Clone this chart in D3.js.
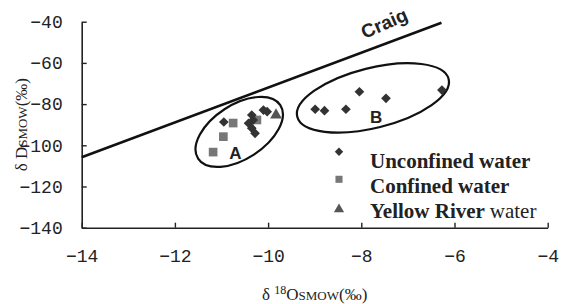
<!DOCTYPE html>
<html><head><meta charset="utf-8">
<script src="https://cdn.jsdelivr.net/npm/d3@7"></script>
<style>body{margin:0;background:#fff}svg{display:block}</style>
</head><body>
<svg id="c" width="561" height="304"></svg>
<script>
// ---- data ----
const xTicks = [-14, -12, -10, -8, -6, -4];
const yTicks = [-140, -120, -100, -80, -60, -40];
const unconfinedX = [-10.95, -10.35, -10.32, -10.42, -10.35, -10.28, -10.10, -10.02, -8.99, -8.79, -8.33, -8.04, -7.47, -6.27];
const unconfinedY = [-88.7, -85.3, -87.7, -89.3, -91.7, -94.2, -82.9, -83.7, -82.5, -83.2, -82.5, -74.0, -77.2, -73.2];
const confinedX = [-10.75, -10.96, -11.18, -10.24];
const confinedY = [-89.2, -95.8, -103.3, -87.7];
const riverX = [-9.83];
const riverY = [-85.3];
const craigX = [-14, -6.28];
const craigY = [-105.8, -40.5];
const legendLabels = ["Unconfined water", "Confined water", "Yellow River water"];

const svg = d3.select("#c");
const x = d3.scaleLinear().domain([-14, -4]).range([81.7, 547.7]);
const y = d3.scaleLinear().domain([-140, -40]).range([227.7, 21.7]);
const minus = v => String(v).replace("-", "\u2212");
const tickFont = "'Liberation Mono', monospace";

// axes
const xa = svg.append("g").attr("transform", `translate(0,${y(-140)})`)
  .call(d3.axisBottom(x).tickValues(xTicks).tickSizeInner(-5).tickSizeOuter(0).tickPadding(18).tickFormat(minus));
const ya = svg.append("g").attr("transform", `translate(${x(-14)},0)`)
  .call(d3.axisLeft(y).tickValues(yTicks).tickSizeInner(-5).tickSizeOuter(0).tickPadding(19).tickFormat(minus));
[xa, ya].forEach(a => {
  a.select(".domain").attr("stroke", "#222").attr("stroke-width", 1.6);
  a.selectAll(".tick line").attr("stroke", "#222").attr("stroke-width", 1.4);
  a.selectAll("text").attr("font-family", tickFont).attr("font-size", 18).attr("fill", "#222");
});
xa.selectAll("text").attr("dy", "0.9em");

// Craig line
svg.append("line")
  .attr("x1", x(craigX[0])).attr("y1", y(craigY[0]))
  .attr("x2", x(craigX[1])).attr("y2", y(craigY[1]))
  .attr("stroke", "#111").attr("stroke-width", 2.6);
const craigAngle = Math.atan2(y(craigY[1]) - y(craigY[0]), x(craigX[1]) - x(craigX[0])) * 180 / Math.PI;
svg.append("text").text("Craig")
  .attr("transform", `translate(${x(-7.93)},${y(-48.4)}) rotate(${craigAngle - 3})`)
  .attr("font-family", "'Liberation Sans', Arial, sans-serif").attr("font-weight", "bold")
  .attr("font-size", 19).attr("fill", "#222");

// ellipses (centre in data units, radii in px)
const ellipses = [
  {cx: -10.62, cy: -93.5, rx: 49, ry: 27, rot: -33, label: "A", lx: -10.70, ly: -106.7},
  {cx: -7.75, cy: -77.0, rx: 78, ry: 30, rot: -14, label: "B", lx: -7.68, ly: -89.3}
];
ellipses.forEach(e => {
  svg.append("ellipse")
    .attr("transform", `translate(${x(e.cx)},${y(e.cy)}) rotate(${e.rot})`)
    .attr("rx", e.rx).attr("ry", e.ry)
    .attr("fill", "none").attr("stroke", "#111").attr("stroke-width", 2.2);
  svg.append("text").text(e.label)
    .attr("x", x(e.lx)).attr("y", y(e.ly))
    .attr("text-anchor", "middle")
    .attr("font-family", "'Liberation Sans', Arial, sans-serif").attr("font-weight", "bold")
    .attr("font-size", 17).attr("fill", "#222");
});

// symbols
const diamond = d3.symbol().type(d3.symbolDiamond2).size(60);
const square = d3.symbol().type(d3.symbolSquare).size(75);
const triangle = d3.symbol().type(d3.symbolTriangle).size(60);

svg.append("g").selectAll("path").data(confinedX.map((v, i) => [v, confinedY[i]]))
  .join("path").attr("d", square)
  .attr("transform", d => `translate(${x(d[0])},${y(d[1])})`).attr("fill", "#777");
svg.append("g").selectAll("path").data(unconfinedX.map((v, i) => [v, unconfinedY[i]]))
  .join("path").attr("d", diamond)
  .attr("transform", d => `translate(${x(d[0])},${y(d[1])})`).attr("fill", "#333");
svg.append("g").selectAll("path").data(riverX.map((v, i) => [v, riverY[i]]))
  .join("path").attr("d", triangle)
  .attr("transform", d => `translate(${x(d[0])},${y(d[1])})`).attr("fill", "#555");

// legend
const legendSyms = [
  {gen: d3.symbol().type(d3.symbolDiamond2).size(45), fill: "#333"},
  {gen: d3.symbol().type(d3.symbolSquare).size(50), fill: "#777"},
  {gen: d3.symbol().type(d3.symbolTriangle).size(45), fill: "#555"}
];
const lg = svg.append("g").attr("transform", "translate(339,0)");
const symYs = [151.7, 179.3, 209.3];
const txtYs = [168, 193, 218];
legendLabels.forEach((t, i) => {
  lg.append("path").attr("d", legendSyms[i].gen).attr("fill", legendSyms[i].fill)
    .attr("transform", `translate(0,${symYs[i]})`);
  const tx = lg.append("text").attr("x", 31).attr("y", txtYs[i])
    .attr("font-family", "'Liberation Serif', 'Times New Roman', serif")
    .attr("font-size", 21).attr("fill", "#222");
  if (i === 2) {
    tx.append("tspan").attr("font-weight", "bold").text("Yellow River ");
    tx.append("tspan").text("water");
  } else {
    tx.attr("font-weight", "bold").text(t);
  }
});

// axis titles
const xt = svg.append("text").attr("x", (x(-14) + x(-4)) / 2).attr("y", 300)
  .attr("text-anchor", "middle").attr("font-family", "'Liberation Serif', serif")
  .attr("font-size", 17).attr("fill", "#222");
xt.append("tspan").text("δ ");
xt.append("tspan").attr("font-size", 12).attr("dy", -6).text("18");
xt.append("tspan").attr("dy", 6).text("O");
xt.append("tspan").attr("font-size", 13).text("SMOW");
xt.append("tspan").text("(‰)");

const yt = svg.append("text").attr("transform", `translate(27,${(y(-40) + y(-140)) / 2}) rotate(-90)`)
  .attr("text-anchor", "middle").attr("font-family", "'Liberation Serif', serif")
  .attr("font-size", 17).attr("fill", "#222");
yt.append("tspan").text("δ D");
yt.append("tspan").attr("font-size", 13).text("SMOW");
yt.append("tspan").text("(‰)");
</script>
</body></html>
